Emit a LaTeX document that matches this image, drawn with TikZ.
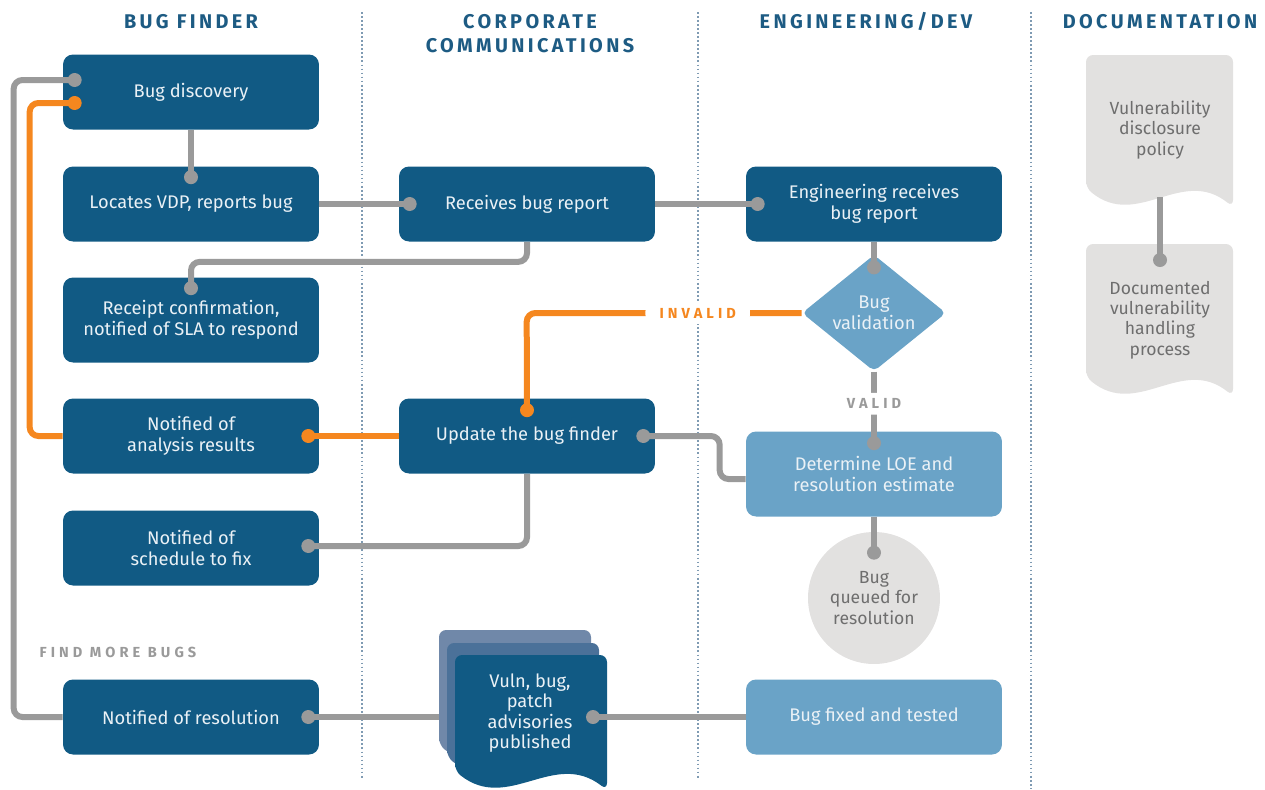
\documentclass[tikz,border=0pt]{standalone}
\usepackage{fontspec}
\setmainfont{Fira Sans}
\newfontfamily\capsfont[LetterSpace=17]{Fira Sans}
\newfontfamily\lblfont[LetterSpace=28]{Fira Sans}
\usetikzlibrary{shapes.geometric, calc}

\definecolor{boxblue}{HTML}{115A84}
\definecolor{lightblue}{HTML}{6AA3C7}
\definecolor{boxtext}{HTML}{EAF1F6}
\definecolor{linegray}{HTML}{9A9A9A}
\definecolor{flagorange}{HTML}{F5871F}
\definecolor{docfill}{HTML}{E2E1E0}
\definecolor{docgray}{HTML}{6E6E6E}
\definecolor{headblue}{HTML}{1D5B83}
\definecolor{sepblue}{HTML}{7F9BB3}
\definecolor{stackback}{HTML}{7088A9}
\definecolor{stackmid}{HTML}{4B7199}

% wavy document: x0, x1, top, left bottom, colour
\newcommand{\docshape}[5]{%
  \fill[#5, rounded corners=4] (#1,#4) -- (#1,#3) -- (#2,#3) -- (#2,{#4+19})
    .. controls ({#2-0.35*(#2-#1)},{#4-22}) and ({#1+0.35*(#2-#1)},{#4+42}) .. (#1,#4) -- cycle;}

\tikzset{
  bluebox/.style={rectangle, rounded corners=0.2cm, fill=boxblue, text=boxtext,
    minimum width=5.12cm, minimum height=1.5cm, align=center,
    font=\fontsize{10.4}{11.8}\selectfont},
  lightbox/.style={bluebox, fill=lightblue},
  doctext/.style={text=docgray, align=center, font=\fontsize{10}{11.6}\selectfont},
  header/.style={text=headblue, align=center,
    font=\capsfont\bfseries\fontsize{11.3}{13.6}\selectfont},
  lbl/.style={fill=white, inner xsep=8pt, font=\lblfont\bfseries\fontsize{8.3}{9}\selectfont},
  conn/.style={linegray, line width=0.12cm, rounded corners=5},
  orconn/.style={conn, flagorange},
  dot/.style={circle, fill, draw=none, inner sep=0pt, minimum size=0.28cm},
  sep/.style={sepblue, line width=1.1pt, dash pattern=on 1pt off 1.3pt}
}

\begin{document}
\begin{tikzpicture}[x=0.02cm, y=-0.02cm]

  \useasboundingbox (0,0) rectangle (1265,789);

  % Column separators
  \draw[sep] (362,12) -- (362,779);
  \draw[sep] (698,12) -- (698,779);
  \draw[sep] (1031,12) -- (1031,789);

  % Column headers
  \node[header] (hfinder) at (191,22) {BUG FINDER};
  \node[header] (hcorp) at (530,34) {CORPORATE\\COMMUNICATIONS};
  \node[header] (heng) at (866,22) {ENGINEERING/DEV};
  \node[header] (hdoc) at (1160,22) {DOCUMENTATION};

  % Documents (stack and documentation column)
  \docshape{439}{591}{630}{745}{stackback}
  \docshape{447}{599}{643}{757}{stackmid}
  \docshape{455}{607}{655}{771}{boxblue}
  \docshape{1086}{1233}{55}{188}{docfill}
  \docshape{1086}{1233}{244}{377}{docfill}
  \coordinate (publeft) at (439,717);
  \coordinate (pubdot) at (593,717);
  \coordinate (policyend) at (1160,197);
  \coordinate (handdot) at (1160,260);

  % Bug finder
  \node[bluebox] (discovery) at (191,92) {Bug discovery};
  \node[bluebox] (locates) at (191,204) {Locates VDP, reports bug};
  \node[bluebox, minimum height=1.7cm] (receipt) at (191,320) {Receipt confirmation,\\notified of SLA to respond};
  \node[bluebox] (analysis) at (191,436) {Notified of\\analysis results};
  \node[bluebox] (schedule) at (191,548) {Notified of\\schedule to fix};
  \node[bluebox] (resolution) at (191,717) {Notified of resolution};

  % Corporate communications
  \node[bluebox] (receives) at (527,204) {Receives bug report};
  \node[bluebox] (update) at (527,436) {Update the bug finder};
  \node[text=boxtext, align=center, font=\fontsize{10.4}{11.6}\selectfont] (advisory) at (530,713) {Vuln, bug,\\patch\\advisories\\published};

  % Engineering
  \node[bluebox] (engrecv) at (874,204) {Engineering receives\\bug report};
  \node[diamond, fill=lightblue, text=boxtext, align=center, inner sep=0pt, rounded corners=3,
    minimum width=2.88cm, minimum height=2.2cm, font=\fontsize{10.4}{11.8}\selectfont] (validation) at (874,313) {Bug\\validation};
  \node[lightbox, minimum height=1.7cm] (loe) at (874,474) {Determine LOE and\\resolution estimate};
  \node[circle, fill=docfill, minimum size=2.64cm, inner sep=0pt, doctext] (queued) at (874,598) {Bug\\queued for\\resolution};
  \node[lightbox] (fixed) at (874,717) {Bug fixed and tested};

  % Documentation
  \node[doctext] (policy) at (1160,130) {Vulnerability\\disclosure\\policy};
  \node[doctext] (handling) at (1160,320) {Documented\\vulnerability\\handling\\process};

  % Gray connectors
  \draw[conn] (discovery.south) -- ($(locates.north)+(0,11)$) node[dot]{};
  \draw[conn] (locates.east) -- ($(receives.west)+(11,0)$) node[dot]{};
  \draw[conn] (receives.east) -- ($(engrecv.west)+(12,0)$) node[dot]{};
  \draw[conn] (receives.south) -- ++(0,20) -| ($(receipt.north)+(0,11)$) node[dot]{};
  \draw[conn] (engrecv.south) -- ($(validation.north)+(0,13)$) node[dot]{};
  \draw[conn] (validation.south) -- node[lbl, pos=0.45]{VALID} ($(loe.north)+(0,12)$) node[dot]{};
  \draw[conn] ($(loe.west)+(0,5)$) -- ++(-26,0) |- ($(update.east)+(-12,0)$) node[dot]{};
  \draw[conn] (update.south) |- ($(schedule.east)+(-11,-2)$) node[dot]{};
  \draw[conn] (loe.south) -- ($(queued.north)+(0,21)$) node[dot]{};
  \draw[conn] (fixed.west) -- (pubdot) node[dot]{};
  \draw[conn] (publeft) -- ($(resolution.east)+(-11,0)$) node[dot]{};
  \draw[conn] (resolution.west) -- ++(-49,0) |- ($(discovery.west)+(12,-12)$) node[dot]{};
  \draw[conn] (policyend) -- (handdot) node[dot]{};

  % Orange connectors
  \draw[orconn] (validation.west) -- node[lbl, pos=0.378]{INVALID} ++(-275,0) -- ($(update.north)+(0,12)$) node[dot]{};
  \draw[orconn] (update.west) -- ($(analysis.east)+(-11,0)$) node[dot]{};
  \draw[orconn] (analysis.west) -- ++(-33,0) |- ($(discovery.west)+(12,11)$) node[dot]{};

  % Loop label
  \node[lbl, text=linegray, fill=none] (findmore) at (118,652) {FIND MORE BUGS};

\end{tikzpicture}
\end{document}
